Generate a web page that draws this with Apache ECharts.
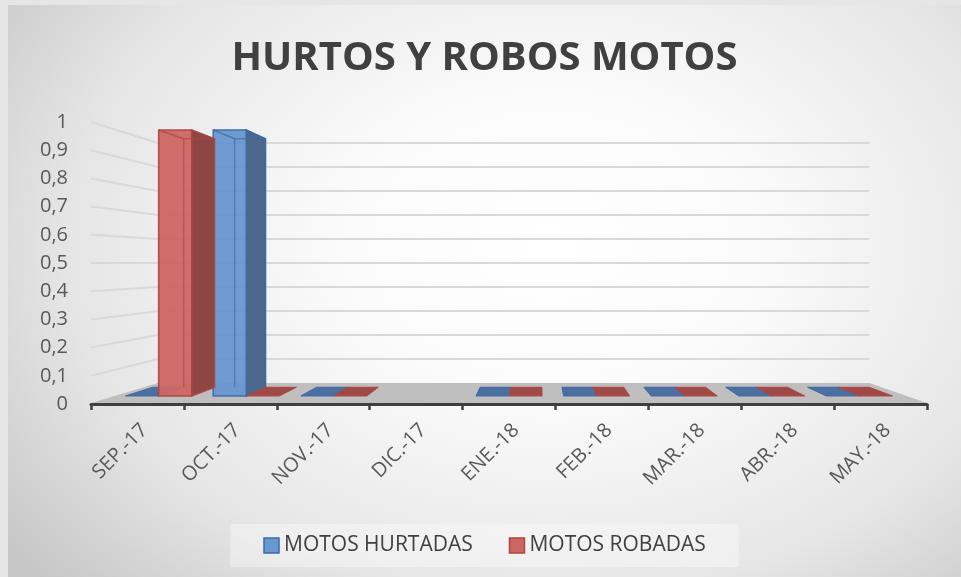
<!DOCTYPE html>
<html>
<head>
<meta charset="utf-8">
<script src="https://cdn.jsdelivr.net/npm/echarts@6/dist/echarts.min.js"></script>
<style>
  html, body { margin: 0; padding: 0; background: #e6e6e6; }
  #chart {
    position: absolute; left: 8px; top: 5px;
    width: 953px; height: 572px;
    background: radial-gradient(ellipse 72% 88% at 57% 42%, #ffffff 0%, #fbfbfb 30%, #e6e6e6 70%, #c6c6c6 100%);
  }
</style>
</head>
<body>
<div id="chart"></div>
<script>
// --- datos ---
const months = ['SEP.-17', 'OCT.-17', 'NOV.-17', 'DIC.-17', 'ENE.-18', 'FEB.-18', 'MAR.-18', 'ABR.-18', 'MAY.-18']
const hurtadas = [0, 1, 0, null, 0, 0, 0, 0, 0]
const robadas = [1, 0, 0, null, 0, 0, 0, 0, 0]
const yTicks = [0, 0.1, 0.2, 0.3, 0.4, 0.5, 0.6, 0.7, 0.8, 0.9, 1]

// perspectiva 3D (imitando Excel)
const VP_X = 0.537, VP_Y = 0.5
const S_WALL = 0.851, S_FRONT = 0.943, S_BACK = 0.881

const palBlue = { front: '#6796d0', side: '#4a688a', edge: '#3d6aa6', flat: '#4a6fa0' }
const palRed = { front: '#cc6663', side: '#8e4644', edge: '#ad4542', flat: '#a04a48' }

const chart = echarts.init(document.getElementById('chart'))

const projector = (cs) => {
  const vx = cs.x + cs.width * VP_X, vy = cs.y + cs.height * VP_Y
  return (x, y, s) => [vx + (x - vx) * s, vy + (y - vy) * s]
}

// suelo + líneas de la pared
const renderDecor = (params, api) => {
  const cs = params.coordSys
  const P = projector(cs)
  const y0 = api.coord([0, 0])[1]
  const children = []
  yTicks.forEach(v => {
    if (v === 0) return
    const yv = api.coord([0, v])[1]
    children.push({
      type: 'polyline',
      shape: { points: [[cs.x, yv], P(cs.x, yv, S_WALL), P(cs.x + cs.width, yv, S_WALL)] },
      style: { stroke: '#d9d9d9', lineWidth: 2, fill: null }
    })
  })
  children.push({
    type: 'polygon',
    shape: { points: [[cs.x, y0 - 1], [cs.x + cs.width, y0 - 1], P(cs.x + cs.width, y0, S_WALL), P(cs.x, y0, S_WALL)] },
    style: { fill: '#bfbfbf' }
  })
  return { type: 'group', children }
}

const makeBar = (slot, pal) => (params, api) => {
  const v = api.value(1)
  if (v == null || isNaN(v)) return
  const cs = params.coordSys
  const P = projector(cs)
  const base = api.coord([api.value(0), 0])
  const band = api.size([1, 0])[0]
  const w = band * 0.377
  const xl = base[0] - band * 0.02 - w + slot * w
  const xr = xl + w
  const y0 = base[1]
  const edge = { stroke: pal.edge, lineWidth: 1.5 }

  if (v === 0) {
    return {
      type: 'polygon',
      shape: { points: [P(xl, y0, S_FRONT), P(xr, y0, S_FRONT), P(xr, y0, S_BACK), P(xl, y0, S_BACK)] },
      style: { fill: pal.flat, stroke: pal.edge, lineWidth: 1 }
    }
  }
  const yt = api.coord([api.value(0), v])[1]
  const fTL = P(xl, yt, S_FRONT), fTR = P(xr, yt, S_FRONT), fBL = P(xl, y0, S_FRONT), fBR = P(xr, y0, S_FRONT)
  const bTL = P(xl, yt, S_BACK), bTR = P(xr, yt, S_BACK), bBL = P(xl, y0, S_BACK), bBR = P(xr, y0, S_BACK)
  return {
    type: 'group',
    children: [
      { type: 'polygon', shape: { points: [fTR, bTR, bBR, fBR] }, style: Object.assign({ fill: pal.side }, edge) },
      { type: 'polygon', shape: { points: [fTL, fTR, fBR, fBL] }, style: Object.assign({ fill: pal.front, opacity: 0.95 }, edge) },
      { type: 'polyline', shape: { points: [bBL, bTL, bTR] }, style: { stroke: pal.edge, lineWidth: 1.5, opacity: 0.6, fill: null } },
      { type: 'line', shape: { x1: fTL[0], y1: fTL[1], x2: bTL[0], y2: bTL[1] }, style: { stroke: pal.edge, lineWidth: 1.5, opacity: 0.7 } }
    ]
  }
}

const option = {
  backgroundColor: 'transparent',
  textStyle: { fontFamily: 'Open Sans' },
  title: {
    text: 'HURTOS Y ROBOS MOTOS',
    left: 'center',
    top: 29,
    textStyle: { fontFamily: 'Open Sans', fontWeight: 'bold', fontSize: 40, color: '#404040' }
  },
  legend: {
    bottom: 10,
    left: 'center',
    padding: [11, 33],
    itemGap: 36,
    itemWidth: 15,
    itemHeight: 15,
    backgroundColor: 'rgba(255,255,255,0.35)',
    textStyle: { fontFamily: 'Open Sans', fontSize: 21, color: '#404040' },
    data: [
      { name: 'MOTOS HURTADAS', icon: 'rect', itemStyle: { color: palBlue.front, borderColor: palBlue.edge, borderWidth: 1.5 } },
      { name: 'MOTOS ROBADAS', icon: 'rect', itemStyle: { color: palRed.front, borderColor: palRed.edge, borderWidth: 1.5 } }
    ]
  },
  grid: { left: 83, right: 34, top: 117, bottom: 173 },
  xAxis: {
    type: 'category',
    data: months,
    axisLine: { lineStyle: { color: '#3f3f3f', width: 3 } },
    axisTick: { show: true, length: 6, lineStyle: { color: '#3f3f3f', width: 2.5 } },
    axisLabel: { rotate: 45, margin: 16, verticalAlign: 'top', fontSize: 20, color: '#595959', fontFamily: 'Open Sans' }
  },
  yAxis: {
    type: 'value',
    min: 0,
    max: 1,
    interval: 0.1,
    axisLine: { show: false },
    axisTick: { show: false },
    splitLine: { show: false },
    axisLabel: {
      margin: 23, fontSize: 20, color: '#595959', fontFamily: 'Open Sans',
      formatter: v => String(+v.toFixed(1)).replace('.', ',')
    }
  },
  series: [
    { name: 'decor', type: 'custom', renderItem: renderDecor, data: [[0, 0]], z: 1, silent: true, clip: false },
    {
      name: 'MOTOS HURTADAS', type: 'custom', renderItem: makeBar(0, palBlue), z: 2,
      itemStyle: { color: palBlue.front },
      data: months.map((m, i) => [i, hurtadas[i]])
    },
    {
      name: 'MOTOS ROBADAS', type: 'custom', renderItem: makeBar(1, palRed), z: 3,
      itemStyle: { color: palRed.front },
      data: months.map((m, i) => [i, robadas[i]])
    }
  ]
}

chart.setOption(option)
</script>
</body>
</html>
